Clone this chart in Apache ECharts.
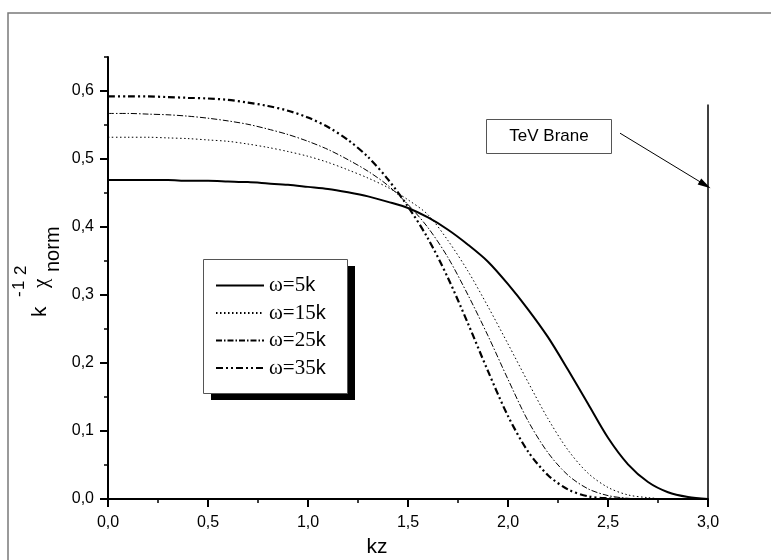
<!DOCTYPE html>
<html>
<head>
<meta charset="utf-8">
<script src="https://cdn.jsdelivr.net/npm/echarts@6/dist/echarts.min.js"></script>
<style>
  html, body { margin: 0; padding: 0; background: #fff; }
  #chart { width: 771px; height: 560px; }
</style>
</head>
<body>
<div id="chart"></div>
<script>
// kz sample positions shared by all curves
const kz = [0.0, 0.1, 0.2, 0.3, 0.4, 0.5, 0.6, 0.7, 0.8, 0.9, 1.0,
            1.1, 1.2, 1.3, 1.4, 1.5, 1.6, 1.7, 1.8, 1.9, 2.0,
            2.1, 2.2, 2.3, 2.4, 2.5, 2.6, 2.7, 2.8, 2.9, 3.0];

// normalised profiles for each frequency
const chi5 = [0.469, 0.469, 0.469, 0.469, 0.468, 0.468, 0.467, 0.466, 0.464, 0.462, 0.459,
              0.456, 0.451, 0.445, 0.437, 0.428, 0.414, 0.396, 0.374, 0.349, 0.316,
              0.279, 0.238, 0.190, 0.140, 0.090, 0.051, 0.025, 0.010, 0.003, 0.000];
const chi15 = [0.532, 0.532, 0.532, 0.531, 0.530, 0.528, 0.526, 0.522, 0.517, 0.511, 0.504,
               0.495, 0.484, 0.472, 0.458, 0.440, 0.418, 0.380, 0.335, 0.283, 0.228,
               0.172, 0.118, 0.072, 0.038, 0.017, 0.006, 0.002, 0.000, 0.000, 0.000];
const chi25 = [0.567, 0.567, 0.566, 0.565, 0.563, 0.560, 0.556, 0.551, 0.544, 0.536, 0.526,
               0.514, 0.499, 0.482, 0.461, 0.433, 0.399, 0.355, 0.300, 0.240, 0.176,
               0.115, 0.068, 0.035, 0.015, 0.005, 0.001, 0.000, 0.000, 0.000, 0.000];
const chi35 = [0.592, 0.592, 0.592, 0.591, 0.590, 0.589, 0.587, 0.583, 0.578, 0.571, 0.561,
               0.547, 0.528, 0.503, 0.470, 0.430, 0.383, 0.325, 0.258, 0.188, 0.122,
               0.070, 0.035, 0.014, 0.004, 0.001, 0.000, 0.000, 0.000, 0.000, 0.000];

const seriesNames = ['ω=5k', 'ω=15k', 'ω=25k', 'ω=35k'];

// brane position and its annotation arrow (kz, value)
const braneKz = [3.0, 3.0];
const braneVal = [0.0, 0.58];
const arrowFrom = [2.56, 0.538];
const arrowTo = [2.985, 0.462];
const braneLabel = 'TeV Brane';

// axis tick labels
const xTicks = [0.0, 0.5, 1.0, 1.5, 2.0, 2.5, 3.0];
const yTicks = [0.0, 0.1, 0.2, 0.3, 0.4, 0.5, 0.6];

const SANS = '"Liberation Sans", Arial, sans-serif';
const SERIF = '"Liberation Serif", "Times New Roman", serif';
const fmt = v => v.toFixed(1).replace('.', ',');

const pairs = vals => kz.map((x, i) => [x, vals[i]]);

const styles = [
  { width: 2, type: 'solid' },
  { width: 1, type: [1.5, 2.5] },
  { width: 1, type: [6, 2, 1.5, 2] },
  { width: 2.2, type: [7, 3, 2, 3, 2, 3] }
];
const profiles = [chi5, chi15, chi25, chi35];

const chart = echarts.init(document.getElementById('chart'), null, { renderer: 'canvas' });

const axisLineStyle = { color: '#000', width: 2 };

// legend frame with a hard drop shadow
const legendBox = { x: 203, y: 259, w: 144, h: 134, dx: 8, dy: 7 };

const option = {
  animation: false,
  backgroundColor: '#fff',
  grid: { left: 108, right: 63, top: 57, bottom: 61, containLabel: false },
  xAxis: {
    type: 'value', min: 0, max: 3, interval: 0.5,
    axisLine: { show: true, onZero: false, lineStyle: axisLineStyle },
    axisTick: { show: true, inside: false, length: 8, lineStyle: { color: '#000', width: 2 } },
    minorTick: { show: true, splitNumber: 2, length: 4, lineStyle: { color: '#000', width: 1.5 } },
    splitLine: { show: false },
    axisLabel: {
      margin: 16, fontFamily: SANS, fontSize: 16, color: '#000',
      formatter: v => (xTicks.some(t => Math.abs(t - v) < 1e-9) ? fmt(v) : '')
    }
  },
  yAxis: [
    {
      type: 'value', min: 0, max: 0.65, interval: 0.05,
      axisLine: { show: true, onZero: false, lineStyle: axisLineStyle },
      axisTick: { show: true, inside: false, length: 4, lineStyle: { color: '#000', width: 1.5 } },
      splitLine: { show: false },
      axisLabel: {
        margin: 14, fontFamily: SANS, fontSize: 16, color: '#000',
        formatter: v => (yTicks.some(t => Math.abs(t - v) < 1e-9) ? fmt(v) : '')
      }
    },
    {
      type: 'value', min: 0, max: 0.65, position: 'left',
      axisLine: { show: false },
      axisTick: { show: true, inside: false, length: 8, customValues: yTicks,
                  lineStyle: { color: '#000', width: 2 } },
      axisLabel: { show: false },
      splitLine: { show: false }
    }
  ],
  legend: {
    data: seriesNames,
    orient: 'vertical',
    left: legendBox.x, top: legendBox.y,
    padding: [16, 12, 16, 12],
    itemWidth: 48, itemHeight: 14, itemGap: 6.5,
    z: 10,
    selectedMode: false,
    itemStyle: { color: 'rgba(0,0,0,0)', borderWidth: 0, opacity: 0 },
    formatter: name => '{t|' + name.slice(0, -1) + '}{k|k}',
    textStyle: {
      color: '#000',
      rich: {
        t: { fontFamily: SERIF, fontSize: 21, color: '#000' },
        k: { fontFamily: SANS, fontSize: 20, color: '#000' }
      }
    }
  },
  series: profiles.map((vals, i) => ({
    name: seriesNames[i],
    type: 'line',
    data: pairs(vals),
    smooth: 0.3,
    showSymbol: false,
    symbol: 'none',
    lineStyle: { color: '#000', width: styles[i].width, type: styles[i].type },
    itemStyle: { color: '#000' },
    z: 3
  })).concat([{
    name: 'brane',
    type: 'line',
    data: braneKz.map((x, i) => [x, braneVal[i]]),
    showSymbol: false,
    symbol: 'none',
    clip: false,
    lineStyle: { color: '#000', width: 1.5 },
    z: 4,
    markLine: {
      silent: true,
      animation: false,
      symbol: ['none', 'triangle'],
      symbolSize: [7, 13],
      label: { show: false },
      lineStyle: { color: '#000', width: 1, type: 'solid' },
      data: [[{ coord: arrowFrom }, { coord: arrowTo }]]
    }
  }]),
  graphic: [
    // outer frame of the figure
    {
      type: 'rect', silent: true, z: 0,
      shape: { x: 8, y: 13, width: 900, height: 700 },
      style: { fill: null, stroke: '#7a7a7a', lineWidth: 1.5 }
    },
    // legend shadow and frame
    {
      type: 'rect', silent: true, z: 8,
      shape: { x: legendBox.x + legendBox.dx, y: legendBox.y + legendBox.dy, width: legendBox.w, height: legendBox.h },
      style: { fill: '#000', stroke: null }
    },
    {
      type: 'rect', silent: true, z: 9,
      shape: { x: legendBox.x + 0.5, y: legendBox.y + 0.5, width: legendBox.w, height: legendBox.h },
      style: { fill: '#fff', stroke: '#555', lineWidth: 1 }
    },
    // brane caption box
    {
      type: 'rect', silent: true, z: 5,
      shape: { x: 486.5, y: 119.5, width: 125, height: 34 },
      style: { fill: '#fff', stroke: '#555', lineWidth: 1 }
    },
    {
      type: 'text', silent: true, z: 6,
      x: 549, y: 136.5,
      style: { text: braneLabel, font: '17px ' + SANS, fill: '#000', align: 'center', verticalAlign: 'middle' }
    },
    // x-axis title
    {
      type: 'text', silent: true, z: 6,
      x: 377, y: 547,
      style: { text: 'kz', font: '21px ' + SANS, fill: '#000', align: 'center', verticalAlign: 'middle' }
    },
    // rotated y-axis title: k^-1 χ^2_norm
    {
      type: 'group', silent: true, x: 40, y: 318, rotation: Math.PI / 2,
      children: [
        { type: 'text', x: 1, y: 0, style: { text: 'k', font: '21px ' + SANS, fill: '#000', verticalAlign: 'middle' } },
        { type: 'text', x: 21, y: -20.5, style: { text: '-', font: '17px ' + SANS, fill: '#000', verticalAlign: 'middle' } },
        { type: 'text', x: 28, y: -20.5, style: { text: '1', font: '17px ' + SANS, fill: '#000', verticalAlign: 'middle' } },
        { type: 'text', x: 30, y: 1, style: { text: 'χ', font: '21px ' + SERIF, fill: '#000', verticalAlign: 'middle' } },
        { type: 'text', x: 43, y: -18.5, style: { text: '2', font: '17px ' + SANS, fill: '#000', verticalAlign: 'middle' } },
        { type: 'text', x: 46, y: 13.5, style: { text: 'norm', font: '20px ' + SANS, fill: '#000', verticalAlign: 'middle' } }
      ]
    }
  ]
};

chart.setOption(option);
</script>
</body>
</html>
